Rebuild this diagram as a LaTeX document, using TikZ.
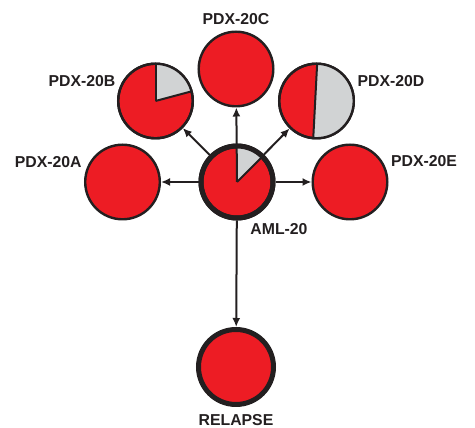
\documentclass[tikz,border=0pt]{standalone}
\usepackage{fontspec}
\setmainfont{Liberation Sans}
\usetikzlibrary{arrows.meta,calc}
\definecolor{pdxred}{HTML}{ED1C24}
\definecolor{pdxgrey}{HTML}{D1D3D4}
\definecolor{ink}{HTML}{231F20}
\tikzset{
  pdx/.style={circle, draw=ink, fill=pdxred, line width=2.4pt, minimum size=74.6pt, inner sep=0pt},
  big/.style={circle, draw=ink, fill=pdxred, line width=5pt, minimum size=72pt, inner sep=0pt},
  lbl/.style={inner sep=0pt, text=ink, font=\fontsize{15.8}{18}\selectfont\bfseries},
  arr/.style={draw=ink, line width=2pt, -{Latex[length=9pt,width=8pt]}},
  edge/.style={draw=ink, line width=2pt},
}
\begin{document}
\begin{tikzpicture}[x=1pt,y=1pt]
\useasboundingbox (0,0) rectangle (475,428);
% circles
\node[big] (AML) at (237,246) {};
\node[pdx] (A) at (122.5,246) {};
\node[pdx] (E) at (350,246) {};
\node[pdx] (C) at (236,359) {};
\node[pdx] (B) at (155.5,327) {};
\node[pdx] (D) at (316.5,327) {};
\node[big, minimum size=75pt] (R) at (236,61) {};
% wedges
\fill[pdxgrey] (B.center) -- ++(15:37.3) arc[start angle=15,end angle=90,radius=37.3] -- cycle;
\draw[edge] (B.center) -- ++(15:37.3);
\draw[edge] (B.center) -- ++(90:37.3);
\draw[draw=ink, line width=2.4pt] (B.center) circle[radius=37.3];
\fill[pdxgrey] (D.center) ++(89:37.3) arc[start angle=89,end angle=-95,radius=37.3] -- cycle;
\draw[edge] (D.center) ++(89:37.3) -- ($(D.center)+(-95:37.3)$);
\draw[draw=ink, line width=2.4pt] (D.center) circle[radius=37.3];
\fill[pdxgrey] (AML.center) -- ++(45:36) arc[start angle=45,end angle=90,radius=36] -- cycle;
\draw[edge] (AML.center) -- ++(45:36);
\draw[draw=ink, line width=5pt] (AML.center) circle[radius=36];
% arrows
\draw[arr] (AML.center) -- (C);
\draw[arr] (AML) -- (B);
\draw[arr] (AML) -- (D);
\draw[arr] (AML) -- (A);
\draw[arr] (AML) -- (E);
\draw[arr] (AML) -- (R);
% labels
\node[lbl] (lC) at (236,409) {PDX-20C};
\node[lbl] (lB) at (82,346.5) {PDX-20B};
\node[lbl] (lD) at (391,347) {PDX-20D};
\node[lbl] (lA) at (48.3,265.5) {PDX-20A};
\node[lbl] (lE) at (424,267) {PDX-20E};
\node[lbl] (lAML) at (279,199) {AML-20};
\node[lbl] (lR) at (236,8) {RELAPSE};
\end{tikzpicture}
\end{document}
